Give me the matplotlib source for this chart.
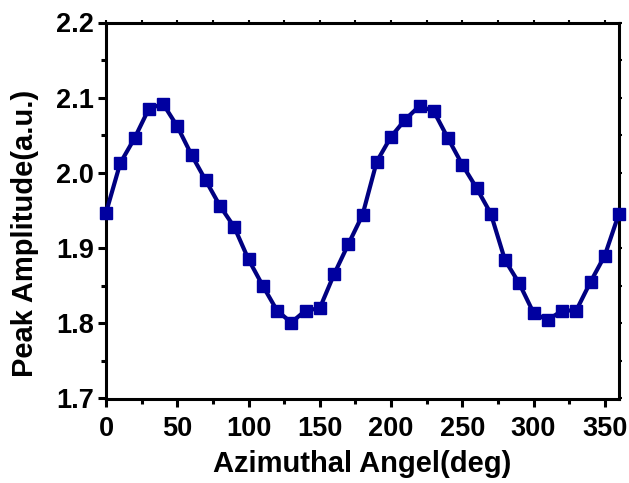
import matplotlib
matplotlib.use("Agg")
import matplotlib.pyplot as plt
from matplotlib.ticker import MultipleLocator, FormatStrFormatter

# Azimuthal scan data
angle_deg = [0, 10, 20, 30, 40, 50, 60, 70, 80, 90, 100, 110, 120, 130, 140,
             150, 160, 170, 180, 190, 200, 210, 220, 230, 240, 250, 260, 270,
             280, 290, 300, 310, 320, 330, 340, 350, 360]
peak_amplitude = [1.947, 2.013, 2.046, 2.085, 2.092, 2.062, 2.024, 1.990, 1.956,
                  1.928, 1.885, 1.850, 1.817, 1.801, 1.817, 1.820, 1.865, 1.905,
                  1.944, 2.015, 2.048, 2.071, 2.089, 2.082, 2.046, 2.011, 1.980,
                  1.946, 1.884, 1.853, 1.814, 1.804, 1.817, 1.817, 1.855, 1.890,
                  1.946]

x_label = "Azimuthal Angel(deg)"
y_label = "Peak Amplitude(a.u.)"

plt.rcParams["font.family"] = ["Liberation Sans", "DejaVu Sans"]
plt.rcParams["font.weight"] = "bold"

fig = plt.figure(figsize=(6.29, 4.83), dpi=100)
ax = fig.add_axes([106 / 629, 1 - 398.5 / 483, (619 - 106) / 629, (398.5 - 22.5) / 483])

ax.plot(angle_deg, peak_amplitude, color="#000080", linewidth=3,
        marker="s", markersize=9.3, markerfacecolor="#0000A0",
        markeredgecolor="#0000A0", clip_on=False, zorder=3)

ax.set_xlim(0, 360)
ax.set_ylim(1.7, 2.2)
ax.xaxis.set_major_locator(MultipleLocator(50))
ax.xaxis.set_minor_locator(MultipleLocator(25))
ax.yaxis.set_major_locator(MultipleLocator(0.1))
ax.yaxis.set_minor_locator(MultipleLocator(0.05))
ax.yaxis.set_major_formatter(FormatStrFormatter("%.1f"))

for side in ax.spines.values():
    side.set_linewidth(2.2)

ax.tick_params(which="major", direction="out", length=6, width=2.2,
               labelsize=19.5)
ax.tick_params(which="minor", direction="out", length=3.5, width=2.2)
ax.tick_params(axis="x", which="major", pad=6.5)
ax.tick_params(axis="y", which="major", pad=2.5)
ax.tick_params(which="both", top=True, right=True)
# short marks on the top and right frame edges
for t in ax.xaxis.get_major_ticks() + ax.xaxis.get_minor_ticks():
    t.tick2line.set_markersize(2)
    t.tick2line.set_markeredgewidth(1.5)
for t in ax.yaxis.get_major_ticks() + ax.yaxis.get_minor_ticks():
    t.tick2line.set_markersize(2)
    t.tick2line.set_markeredgewidth(1.5)

for lbl in ax.get_xticklabels() + ax.get_yticklabels():
    lbl.set_fontweight("bold")

ax.set_xlabel(x_label, fontsize=21, fontweight="bold")
ax.set_ylabel(y_label, fontsize=21, fontweight="bold")
ax.xaxis.set_label_coords(0.5, -0.137)
ax.yaxis.set_label_coords(-0.13, 0.44)

fig.savefig("out.png", dpi=100)
